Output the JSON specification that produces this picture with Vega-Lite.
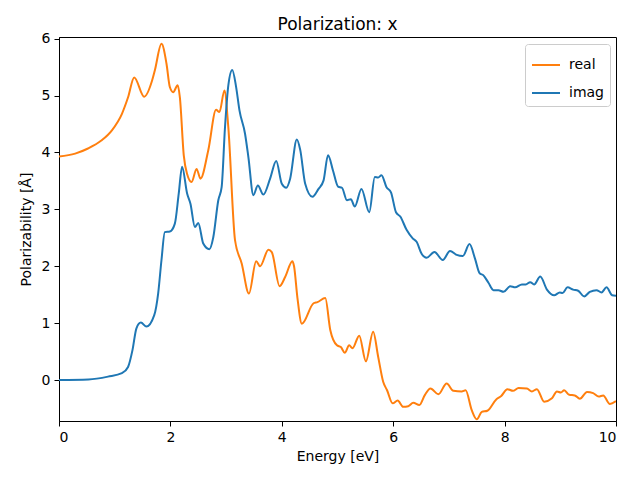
{
  "$schema": "https://vega.github.io/schema/vega-lite/v6.json",
  "width": 557,
  "height": 384,
  "autosize": "none",
  "padding": {"left": 59, "top": 37, "right": 24, "bottom": 59},
  "config": {
    "font": "DejaVu Sans",
    "view": {"stroke": "black", "strokeWidth": 1},
    "axis": {"grid": false, "domainColor": "black", "tickColor": "black", "labelColor": "black", "titleColor": "black", "labelFontSize": 14, "titleFontSize": 14, "titleFontWeight": "normal", "tickSize": 5, "labelPadding": 4, "labelFont": "DejaVu Sans", "titleFont": "DejaVu Sans"}
  },
  "title": {"text": "Polarization: x", "fontSize": 17, "fontWeight": "normal", "font": "DejaVu Sans", "color": "black", "offset": -2},
  "data": {"values": [
    {"e":0.0,"s":"real","v":3.93},{"e":0.29,"s":"real","v":3.98},{"e":0.52,"s":"real","v":4.07},{"e":0.76,"s":"real","v":4.21},{"e":0.95,"s":"real","v":4.39},{"e":1.13,"s":"real","v":4.68},{"e":1.24,"s":"real","v":4.97},{"e":1.35,"s":"real","v":5.32},{"e":1.53,"s":"real","v":4.98},{"e":1.67,"s":"real","v":5.26},{"e":1.72,"s":"real","v":5.44},{"e":1.84,"s":"real","v":5.91},{"e":1.93,"s":"real","v":5.56},{"e":1.99,"s":"real","v":5.15},{"e":2.05,"s":"real","v":5.06},{"e":2.13,"s":"real","v":5.18},{"e":2.17,"s":"real","v":4.97},{"e":2.24,"s":"real","v":3.95},{"e":2.3,"s":"real","v":3.62},{"e":2.38,"s":"real","v":3.48},{"e":2.47,"s":"real","v":3.71},{"e":2.54,"s":"real","v":3.54},{"e":2.68,"s":"real","v":4.04},{"e":2.82,"s":"real","v":4.75},{"e":2.88,"s":"real","v":4.71},{"e":2.97,"s":"real","v":5.09},{"e":3.04,"s":"real","v":4.44},{"e":3.16,"s":"real","v":2.46},{"e":3.28,"s":"real","v":2.05},{"e":3.41,"s":"real","v":1.52},{"e":3.54,"s":"real","v":2.09},{"e":3.61,"s":"real","v":2.0},{"e":3.76,"s":"real","v":2.29},{"e":3.82,"s":"real","v":2.25},{"e":3.96,"s":"real","v":1.65},{"e":4.06,"s":"real","v":1.81},{"e":4.19,"s":"real","v":2.09},{"e":4.22,"s":"real","v":2.0},{"e":4.28,"s":"real","v":1.45},{"e":4.36,"s":"real","v":0.99},{"e":4.57,"s":"real","v":1.35},{"e":4.64,"s":"real","v":1.37},{"e":4.78,"s":"real","v":1.44},{"e":4.87,"s":"real","v":0.88},{"e":4.99,"s":"real","v":0.61},{"e":5.06,"s":"real","v":0.58},{"e":5.13,"s":"real","v":0.48},{"e":5.21,"s":"real","v":0.61},{"e":5.27,"s":"real","v":0.56},{"e":5.39,"s":"real","v":0.78},{"e":5.51,"s":"real","v":0.33},{"e":5.64,"s":"real","v":0.85},{"e":5.73,"s":"real","v":0.41},{"e":5.82,"s":"real","v":-0.03},{"e":5.89,"s":"real","v":-0.18},{"e":5.99,"s":"real","v":-0.41},{"e":6.08,"s":"real","v":-0.36},{"e":6.18,"s":"real","v":-0.47},{"e":6.27,"s":"real","v":-0.46},{"e":6.36,"s":"real","v":-0.4},{"e":6.47,"s":"real","v":-0.44},{"e":6.57,"s":"real","v":-0.26},{"e":6.67,"s":"real","v":-0.15},{"e":6.81,"s":"real","v":-0.25},{"e":6.96,"s":"real","v":-0.06},{"e":7.08,"s":"real","v":-0.19},{"e":7.23,"s":"real","v":-0.2},{"e":7.3,"s":"real","v":-0.18},{"e":7.41,"s":"real","v":-0.53},{"e":7.5,"s":"real","v":-0.69},{"e":7.59,"s":"real","v":-0.56},{"e":7.69,"s":"real","v":-0.54},{"e":7.85,"s":"real","v":-0.34},{"e":7.94,"s":"real","v":-0.28},{"e":8.05,"s":"real","v":-0.16},{"e":8.15,"s":"real","v":-0.19},{"e":8.25,"s":"real","v":-0.14},{"e":8.4,"s":"real","v":-0.15},{"e":8.49,"s":"real","v":-0.2},{"e":8.58,"s":"real","v":-0.16},{"e":8.71,"s":"real","v":-0.38},{"e":8.85,"s":"real","v":-0.32},{"e":8.94,"s":"real","v":-0.2},{"e":9.01,"s":"real","v":-0.22},{"e":9.07,"s":"real","v":-0.18},{"e":9.16,"s":"real","v":-0.26},{"e":9.26,"s":"real","v":-0.27},{"e":9.35,"s":"real","v":-0.33},{"e":9.48,"s":"real","v":-0.21},{"e":9.59,"s":"real","v":-0.23},{"e":9.69,"s":"real","v":-0.29},{"e":9.77,"s":"real","v":-0.27},{"e":9.89,"s":"real","v":-0.42},{"e":10.0,"s":"real","v":-0.37},
    {"e":0.0,"s":"imag","v":0.0},{"e":0.53,"s":"imag","v":0.01},{"e":0.88,"s":"imag","v":0.06},{"e":1.13,"s":"imag","v":0.12},{"e":1.24,"s":"imag","v":0.23},{"e":1.32,"s":"imag","v":0.53},{"e":1.39,"s":"imag","v":0.91},{"e":1.47,"s":"imag","v":1.01},{"e":1.57,"s":"imag","v":0.94},{"e":1.71,"s":"imag","v":1.14},{"e":1.78,"s":"imag","v":1.52},{"e":1.84,"s":"imag","v":2.11},{"e":1.9,"s":"imag","v":2.6},{"e":1.99,"s":"imag","v":2.61},{"e":2.08,"s":"imag","v":2.75},{"e":2.15,"s":"imag","v":3.28},{"e":2.21,"s":"imag","v":3.75},{"e":2.3,"s":"imag","v":3.28},{"e":2.36,"s":"imag","v":3.1},{"e":2.44,"s":"imag","v":2.69},{"e":2.5,"s":"imag","v":2.76},{"e":2.59,"s":"imag","v":2.4},{"e":2.7,"s":"imag","v":2.3},{"e":2.77,"s":"imag","v":2.51},{"e":2.86,"s":"imag","v":3.16},{"e":2.92,"s":"imag","v":3.39},{"e":2.98,"s":"imag","v":4.44},{"e":3.04,"s":"imag","v":5.18},{"e":3.11,"s":"imag","v":5.45},{"e":3.18,"s":"imag","v":5.15},{"e":3.24,"s":"imag","v":4.74},{"e":3.34,"s":"imag","v":4.33},{"e":3.4,"s":"imag","v":3.92},{"e":3.49,"s":"imag","v":3.25},{"e":3.57,"s":"imag","v":3.42},{"e":3.67,"s":"imag","v":3.26},{"e":3.79,"s":"imag","v":3.54},{"e":3.9,"s":"imag","v":3.85},{"e":4.0,"s":"imag","v":3.45},{"e":4.08,"s":"imag","v":3.38},{"e":4.15,"s":"imag","v":3.54},{"e":4.27,"s":"imag","v":4.23},{"e":4.33,"s":"imag","v":4.05},{"e":4.42,"s":"imag","v":3.45},{"e":4.55,"s":"imag","v":3.22},{"e":4.66,"s":"imag","v":3.36},{"e":4.75,"s":"imag","v":3.51},{"e":4.83,"s":"imag","v":3.95},{"e":4.92,"s":"imag","v":3.68},{"e":5.01,"s":"imag","v":3.4},{"e":5.08,"s":"imag","v":3.38},{"e":5.17,"s":"imag","v":3.16},{"e":5.24,"s":"imag","v":3.18},{"e":5.31,"s":"imag","v":3.05},{"e":5.43,"s":"imag","v":3.36},{"e":5.57,"s":"imag","v":2.95},{"e":5.67,"s":"imag","v":3.57},{"e":5.73,"s":"imag","v":3.56},{"e":5.79,"s":"imag","v":3.6},{"e":5.88,"s":"imag","v":3.39},{"e":5.96,"s":"imag","v":3.3},{"e":6.05,"s":"imag","v":2.95},{"e":6.13,"s":"imag","v":2.87},{"e":6.24,"s":"imag","v":2.64},{"e":6.35,"s":"imag","v":2.49},{"e":6.42,"s":"imag","v":2.43},{"e":6.51,"s":"imag","v":2.22},{"e":6.6,"s":"imag","v":2.15},{"e":6.74,"s":"imag","v":2.25},{"e":6.89,"s":"imag","v":2.11},{"e":7.02,"s":"imag","v":2.27},{"e":7.14,"s":"imag","v":2.2},{"e":7.25,"s":"imag","v":2.18},{"e":7.37,"s":"imag","v":2.39},{"e":7.47,"s":"imag","v":2.13},{"e":7.55,"s":"imag","v":1.88},{"e":7.62,"s":"imag","v":1.84},{"e":7.71,"s":"imag","v":1.71},{"e":7.8,"s":"imag","v":1.58},{"e":7.89,"s":"imag","v":1.58},{"e":7.98,"s":"imag","v":1.55},{"e":8.1,"s":"imag","v":1.65},{"e":8.19,"s":"imag","v":1.63},{"e":8.31,"s":"imag","v":1.68},{"e":8.38,"s":"imag","v":1.68},{"e":8.46,"s":"imag","v":1.72},{"e":8.53,"s":"imag","v":1.68},{"e":8.64,"s":"imag","v":1.82},{"e":8.76,"s":"imag","v":1.59},{"e":8.89,"s":"imag","v":1.49},{"e":8.99,"s":"imag","v":1.54},{"e":9.04,"s":"imag","v":1.53},{"e":9.13,"s":"imag","v":1.63},{"e":9.23,"s":"imag","v":1.59},{"e":9.32,"s":"imag","v":1.57},{"e":9.43,"s":"imag","v":1.47},{"e":9.53,"s":"imag","v":1.55},{"e":9.65,"s":"imag","v":1.58},{"e":9.74,"s":"imag","v":1.54},{"e":9.83,"s":"imag","v":1.63},{"e":9.93,"s":"imag","v":1.49},{"e":10.0,"s":"imag","v":1.48}
  ]},
  "encoding": {
    "x": {"field": "e", "type": "quantitative", "title": "Energy [eV]", "scale": {"domain": [0, 10], "nice": false, "zero": false}, "axis": {"values": [0, 2, 4, 6, 8, 10], "titlePadding": 5}},
    "y": {"field": "v", "type": "quantitative", "title": "Polarizability [Å]", "scale": {"domain": [-0.72, 6.03], "nice": false, "zero": false}, "axis": {"values": [0, 1, 2, 3, 4, 5, 6], "titlePadding": 8}},
    "color": {"field": "s", "type": "nominal", "scale": {"domain": ["real", "imag"], "range": ["#ff7f0e", "#1f77b4"]},
      "legend": {"title": null, "orient": "none", "legendX": 466, "legendY": 7, "symbolType": "stroke", "symbolSize": 784, "symbolStrokeWidth": 2, "labelFontSize": 14, "labelFont": "DejaVu Sans", "labelColor": "black", "labelOffset": 8, "padding": 6, "rowPadding": 6, "fillColor": "white", "strokeColor": "#cccccc", "cornerRadius": 3}}
  },
  "layer": [
    {"transform": [{"filter": "datum.s === 'real'"}], "mark": {"type": "line", "strokeWidth": 2, "interpolate": "monotone", "clip": true}},
    {"transform": [{"filter": "datum.s === 'imag'"}], "mark": {"type": "line", "strokeWidth": 2, "interpolate": "monotone", "clip": true}}
  ]
}
